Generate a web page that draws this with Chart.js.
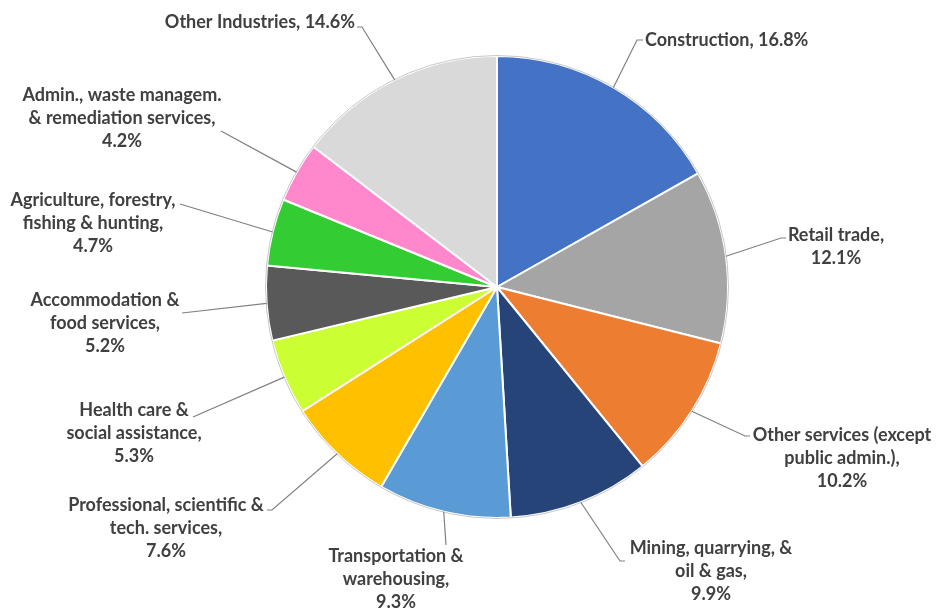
<!DOCTYPE html>
<html>
<head>
<meta charset="utf-8">
<script src="https://cdn.jsdelivr.net/npm/chart.js@4.4.0/dist/chart.umd.min.js"></script>
<style>
  html, body { margin: 0; padding: 0; background: #fff; }
</style>
</head>
<body>
<canvas id="myChart" width="936" height="614"></canvas>
<script>
// industry names, split in the lines used by the labels
const categories = [
    ['Construction,'],
    ['Retail trade,'],
    ['Other services (except', 'public admin.),'],
    ['Mining, quarrying, &', 'oil & gas,'],
    ['Transportation &', 'warehousing,'],
    ['Professional, scientific &', 'tech. services,'],
    ['Health care &', 'social assistance,'],
    ['Accommodation &', 'food services,'],
    ['Agriculture, forestry,', 'fishing & hunting,'],
    ['Admin., waste managem.', '& remediation services,'],
    ['Other Industries,']
];
const shares = [16.8, 12.1, 10.2, 9.9, 9.3, 7.6, 5.3, 5.2, 4.7, 4.2, 14.6];
const sliceColors = ['#4472C4', '#A5A5A5', '#ED7D31', '#264478', '#5B9BD5', '#FFC000',
                     '#CCFF33', '#595959', '#33CC33', '#FF88CC', '#D9D9D9'];

// where each leader line ends and where its text sits
const labelSpots = [
    { lx: 637, ly: 40,  hx: 643, tx: 645, ty: 40,  align: 'left',   inline: true },
    { lx: 781, ly: 238, hx: 786, tx: 836, ty: 235, align: 'center' },
    { lx: 745, ly: 436, hx: 750, tx: 842, ty: 435, align: 'center' },
    { lx: 620, ly: 561, hx: 625, tx: 711, ty: 548, align: 'center' },
    { lx: 446, ly: 545, hx: 446, tx: 396, ty: 556, align: 'center' },
    { lx: 272, ly: 510, hx: 267, tx: 166, ty: 505, align: 'center' },
    { lx: 193, ly: 417, hx: 193, tx: 134, ty: 410, align: 'center' },
    { lx: 182, ly: 313, hx: 182, tx: 105, ty: 300, align: 'center' },
    { lx: 180, ly: 204, hx: 180, tx: 93,  ty: 200, align: 'center' },
    { lx: 221, ly: 131, hx: 221, tx: 122, ty: 95,  align: 'center' },
    { lx: 362, ly: 27,  hx: 357, tx: 355, ty: 22,  align: 'right',  inline: true }
];

const leaderLabels = {
    id: 'leaderLabels',
    afterDatasetsDraw(chart) {
        const ctx = chart.ctx;
        const arcs = chart.getDatasetMeta(0).data;
        ctx.save();
        // thin grey rim round the pie
        const a0 = arcs[0];
        ctx.strokeStyle = '#C8C8C8';
        ctx.lineWidth = 1;
        ctx.beginPath();
        ctx.arc(a0.x, a0.y, a0.outerRadius + 0.5, 0, Math.PI * 2);
        ctx.stroke();

        arcs.forEach((arc, i) => {
            const spot = labelSpots[i];
            const mid = (arc.startAngle + arc.endAngle) / 2;
            const r = arc.outerRadius;
            const x0 = arc.x + Math.cos(mid) * r;
            const y0 = arc.y + Math.sin(mid) * r;

            ctx.strokeStyle = '#808080';
            ctx.lineWidth = 1.2;
            ctx.beginPath();
            ctx.moveTo(x0, y0);
            ctx.lineTo(spot.lx, spot.ly);
            ctx.lineTo(spot.hx, spot.ly);
            ctx.stroke();

            const pct = shares[i].toFixed(1) + '%';
            let lines = categories[i].slice();
            if (spot.inline) lines[lines.length - 1] += ' ' + pct;
            else lines.push(pct);

            ctx.fillStyle = '#404040';
            ctx.font = 'bold 18px Lato';
            ctx.textAlign = spot.align;
            ctx.textBaseline = 'middle';
            lines.forEach((t, k) => ctx.fillText(t, spot.tx, spot.ty + k * 23));
        });
        ctx.restore();
    }
};

var ctx = document.getElementById('myChart').getContext('2d');
var myChart = new Chart(ctx, {
    type: 'pie',
    data: {
        labels: categories.map(c => c.join(' ')),
        datasets: [{
            data: shares,
            backgroundColor: sliceColors,
            borderColor: '#ffffff',
            borderWidth: 2
        }]
    },
    options: {
        responsive: false,
        animation: false,
        layout: {
            padding: { top: 55, bottom: 95, left: 265, right: 207 }
        },
        plugins: {
            legend: { display: false },
            tooltip: { enabled: false }
        }
    },
    plugins: [leaderLabels]
});
</script>
</body>
</html>
